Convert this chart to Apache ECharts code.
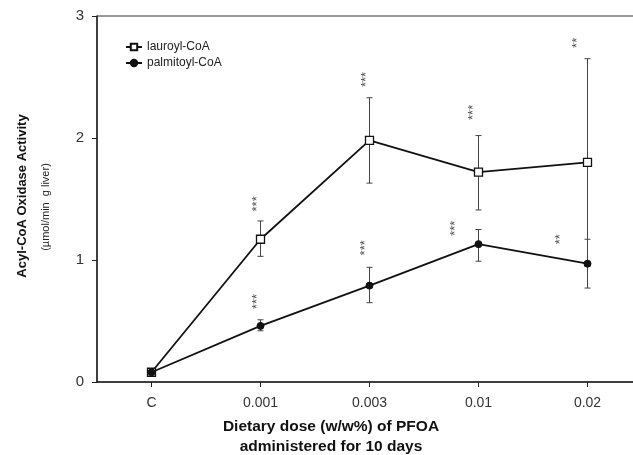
<!DOCTYPE html>
<html>
<head>
<meta charset="utf-8">
<script src="https://cdn.jsdelivr.net/npm/echarts@6/dist/echarts.min.js"></script>
<style>
html,body{margin:0;padding:0;background:#fff;}
#chart{width:633px;height:455px;}
</style>
</head>
<body>
<div id="chart"></div>
<script>
// ---- data ----
var categories = ['C', '0.001', '0.003', '0.01', '0.02'];
var yTicks = [0, 1, 2, 3];

var lauroyl      = [0.08, 1.17, 1.98, 1.72, 1.80];
var lauroylLow   = [0.08, 1.03, 1.63, 1.41, 0.95];
var lauroylHigh  = [0.08, 1.32, 2.33, 2.02, 2.65];

var palmitoyl     = [0.08, 0.46, 0.79, 1.13, 0.97];
var palmitoylLow  = [0.08, 0.42, 0.65, 0.99, 0.77];
var palmitoylHigh = [0.08, 0.51, 0.94, 1.25, 1.17];

// significance marks: text, anchor (category offset, value)
var lauroylSig      = ['', '***', '***', '***', '**'];
var lauroylSigX     = [0, 0.97, 1.97, 2.95, 3.91];
var lauroylSigY     = [0, 1.46, 2.48, 2.21, 2.78];
var palmitoylSig    = ['', '***', '***', '***', '**'];
var palmitoylSigX   = [0, 0.97, 1.96, 2.79, 3.75];
var palmitoylSigY   = [0, 0.66, 1.10, 1.26, 1.17];

// ---- build ----
function pts(vals) { return vals.map(function (v, i) { return [i, v]; }); }
function errData(lo, hi) { return lo.map(function (l, i) { return [i, l, hi[i]]; }); }
function sigData(txt, xs, ys) {
  var out = [];
  txt.forEach(function (t, i) { if (t) out.push({ value: [xs[i], ys[i]], name: t }); });
  return out;
}

function errRender(params, api) {
  var x = api.value(0);
  var lo = api.coord([x, api.value(1)]);
  var hi = api.coord([x, api.value(2)]);
  var w = 3;
  var st = { stroke: '#444', lineWidth: 1 };
  return {
    type: 'group',
    children: [
      { type: 'line', shape: { x1: lo[0], y1: lo[1], x2: hi[0], y2: hi[1] }, style: st },
      { type: 'line', shape: { x1: lo[0] - w, y1: lo[1], x2: lo[0] + w, y2: lo[1] }, style: st },
      { type: 'line', shape: { x1: hi[0] - w, y1: hi[1], x2: hi[0] + w, y2: hi[1] }, style: st }
    ]
  };
}

var FONT = '"Liberation Sans", Arial, sans-serif';
var tickVals = categories.map(function (c, i) { return i; });

var chart = echarts.init(document.getElementById('chart'), null, { renderer: 'canvas' });
chart.setOption({
  animation: false,
  backgroundColor: '#fff',
  textStyle: { fontFamily: FONT },
  grid: {
    left: 97, width: 545, top: 16, bottom: 73,
    outerBoundsMode: 'none', containLabel: false,
    show: true, borderColor: '#333', borderWidth: 1, backgroundColor: 'transparent'
  },
  legend: {
    orient: 'vertical',
    left: 120, top: 36,
    itemWidth: 16, itemHeight: 8, itemGap: 4,
    textStyle: { fontFamily: FONT, fontSize: 12, color: '#222' },
    data: ['lauroyl-CoA', 'palmitoyl-CoA']
  },
  xAxis: {
    type: 'value',
    min: -0.5, max: 4.5,
    splitLine: { show: false },
    axisLine: { show: true, onZero: false, lineStyle: { color: '#222', width: 1.5 } },
    axisTick: { show: true, customValues: tickVals, length: 5, lineStyle: { color: '#222' } },
    axisLabel: {
      customValues: tickVals,
      margin: 14,
      fontFamily: FONT, fontSize: 14, color: '#333',
      formatter: function (v) { return categories[Math.round(v)]; }
    }
  },
  yAxis: {
    type: 'value',
    min: 0, max: 3, interval: 1,
    splitLine: { show: false },
    axisLine: { show: true, onZero: false, lineStyle: { color: '#222', width: 1.5 } },
    axisTick: { show: true, length: 5, lineStyle: { color: '#222' } },
    axisLabel: {
      margin: 13, fontFamily: FONT, fontSize: 15, color: '#333',
      formatter: function (v) { return yTicks.indexOf(v) >= 0 ? String(v) : ''; }
    }
  },
  graphic: [
    {
      type: 'text', x: 22, y: 196, rotation: Math.PI / 2,
      style: {
        text: 'Acyl-CoA Oxidase Activity',
        font: 'bold 13px "Liberation Sans", Arial, sans-serif',
        fill: '#111', align: 'center', verticalAlign: 'middle'
      }
    },
    {
      type: 'text', x: 46, y: 207, rotation: Math.PI / 2,
      style: {
        text: '(\u00b5mol/min  g liver)',
        font: '11px "Liberation Sans", Arial, sans-serif',
        fill: '#222', align: 'center', verticalAlign: 'middle'
      }
    },
    {
      type: 'text', x: 331, y: 427,
      style: {
        text: 'Dietary dose (w/w%) of PFOA',
        font: 'bold 15.5px "Liberation Sans", Arial, sans-serif',
        fill: '#111', align: 'center', verticalAlign: 'middle'
      }
    },
    {
      type: 'text', x: 331, y: 447,
      style: {
        text: 'administered for 10 days',
        font: 'bold 15.5px "Liberation Sans", Arial, sans-serif',
        fill: '#111', align: 'center', verticalAlign: 'middle'
      }
    }
  ],
  series: [
    {
      type: 'custom', name: 'errL', renderItem: errRender, z: 1,
      data: errData(lauroylLow, lauroylHigh), silent: true
    },
    {
      type: 'custom', name: 'errP', renderItem: errRender, z: 1,
      data: errData(palmitoylLow, palmitoylHigh), silent: true
    },
    {
      type: 'line', name: 'lauroyl-CoA', z: 3,
      data: pts(lauroyl),
      symbol: 'rect', symbolSize: 8, showAllSymbol: true,
      lineStyle: { color: '#111', width: 1.8 },
      itemStyle: { color: '#fff', borderColor: '#111', borderWidth: 1.3 }
    },
    {
      type: 'line', name: 'palmitoyl-CoA', z: 4,
      data: pts(palmitoyl),
      symbol: 'circle', symbolSize: 7, showAllSymbol: true,
      lineStyle: { color: '#111', width: 1.8 },
      itemStyle: { color: '#111', borderColor: '#111', borderWidth: 1 }
    },
    {
      type: 'scatter', name: 'sig', z: 5, silent: true,
      symbolSize: 0,
      data: sigData(lauroylSig, lauroylSigX, lauroylSigY).concat(sigData(palmitoylSig, palmitoylSigX, palmitoylSigY)),
      label: {
        show: true, position: 'inside', rotate: 90,
        fontFamily: FONT, fontSize: 13, color: '#222',
        formatter: function (p) { return p.name; }
      }
    }
  ]
});
</script>
</body>
</html>
